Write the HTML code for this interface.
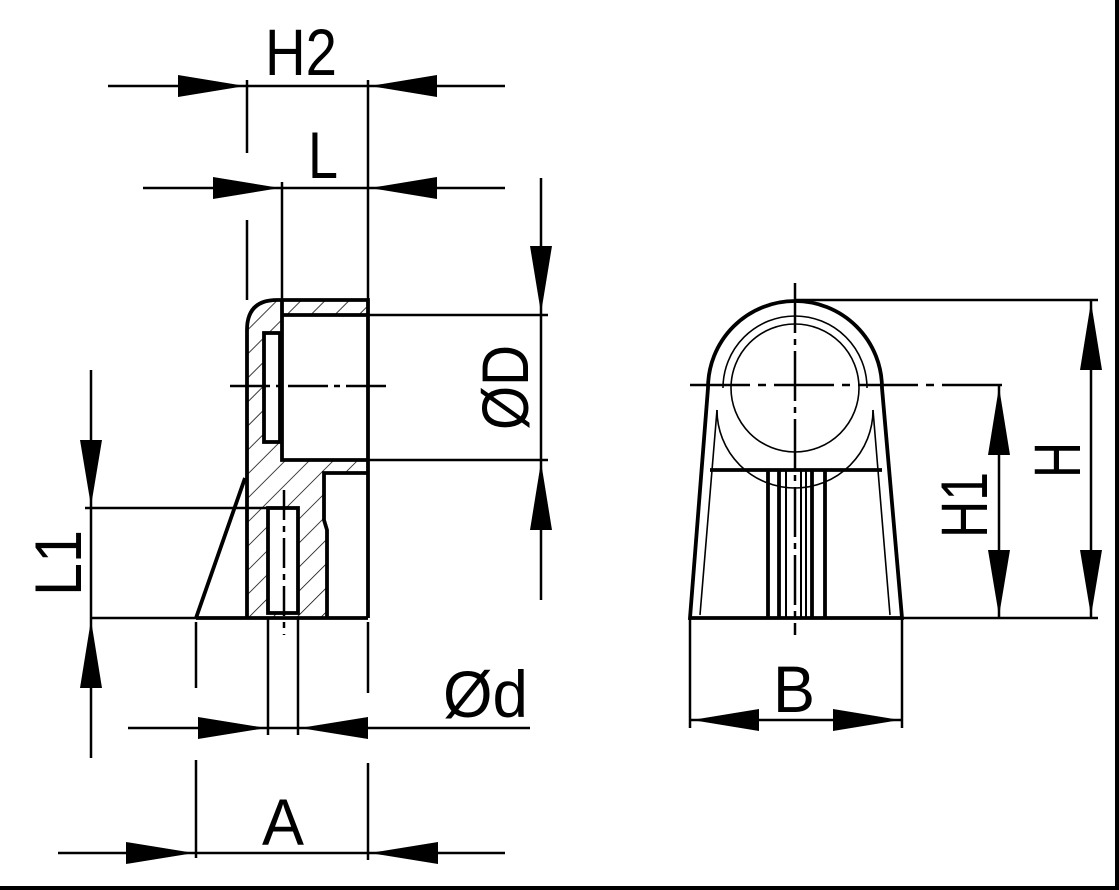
<!DOCTYPE html>
<html><head><style>html,body{margin:0;padding:0;background:#fff}svg{display:block}</style></head><body>
<svg width="1119" height="890" viewBox="0 0 1119 890" xmlns="http://www.w3.org/2000/svg">
<defs>
<pattern id="h" patternUnits="userSpaceOnUse" width="17" height="17" patternTransform="rotate(45)">
<line x1="0" y1="0" x2="0" y2="17" stroke="#000" stroke-width="1.5"/>
</pattern>
</defs>
<rect width="1119" height="890" fill="#fff"/>
<g fill="none" stroke="#000">
<path fill="url(#h)" stroke="none" fill-rule="evenodd" d="M247,618 L247,330 Q247,300 277,300 L368,300 L368,315 L282,315 L282,460 L368,460 L368,473 L324,473 L324,520 L327,530 L327,618 Z M264,333 H280 V442 H264 Z M268,508 H298 V613 H268 Z"/>
<g stroke-width="3.8">
<path d="M247,618 V330 Q247,300 277,300 H368 V618"/>
<path d="M282,300 V460 H368"/>
<path d="M282,315 H368"/>
<path d="M368,473 H324 V520 L327,530 V618"/>
<rect x="264" y="333" width="16" height="109"/>
<rect x="268" y="508" width="30" height="105"/>
<path d="M245,478 L196,618"/>
<path d="M196,618 H368"/>
</g>
<g stroke-width="2.5">
<path d="M108,86 H505 M143,188 H505"/>
<path d="M247,80 V153 M247,220 V300 M368,80 V300 M282,182 V300"/>
<path d="M541,178 V600 M368,315 H548 M368,460 H548"/>
<path d="M91,370 V758 M85,508 H298 M90,618 H196"/>
<path d="M230,386 H388" stroke-dasharray="40,6,6,6"/>
<path d="M284,490 V635" stroke-dasharray="30,6,6,6"/>
<path d="M128,728 H530 M268,618 V735 M298,618 V735"/>
<path d="M196,622 V688 M196,760 V858 M368,622 V693 M368,763 V860 M58,853 H505"/>
<path d="M795,300 H1098 M902,618 H1098 M1091,300 V618 M999,385 V618"/>
<path d="M690,618 V728 M902,618 V728 M690,720 H902"/>
<path d="M690,385 H1006" stroke-dasharray="60,8,8,8"/>
<path d="M795,283 V635" stroke-dasharray="50,6,6,6"/>
</g>
<path stroke-width="3.8" d="M690,618 L708,388 A87,87 0 0 1 882,388 L902,618 Z"/>
<path stroke-width="3.8" d="M710,470 H882"/>
<g stroke-width="1.6">
<path d="M717,410 A74,74 0 0 0 873,410"/>
<circle cx="795" cy="388" r="64"/>
<path d="M723,388 A72,72 0 0 1 867,388"/>
<path d="M717,410 L700,615 M873,410 L890,615"/>
</g>
<g stroke-width="3.8">
<path d="M768,470 V618 M779,470 V618 M812,470 V618 M825,470 V618"/>
</g>
<g stroke-width="2">
<path d="M786,470 V618 M801,470 V618 M806,470 V618"/>
</g>
</g>
<g fill="#000">
<polygon points="178,75 245,86 178,97"/><polygon points="437,75 370,86 437,97"/>
<polygon points="213,177 280,188 213,199"/><polygon points="437,177 370,188 437,199"/>
<polygon points="530,246 541,313 552,246"/><polygon points="530,530 541,462 552,530"/>
<polygon points="80,440 91,506 102,440"/><polygon points="80,688 91,620 102,688"/>
<polygon points="198,717 266,728 198,739"/><polygon points="368,717 300,728 368,739"/>
<polygon points="126,842 194,853 126,864"/><polygon points="438,842 370,853 438,864"/>
<polygon points="1080,370 1091,302 1102,370"/><polygon points="1080,550 1091,616 1102,550"/>
<polygon points="988,455 999,387 1010,455"/><polygon points="988,550 999,616 1010,550"/>
<polygon points="759,709 692,720 759,731"/><polygon points="833,709 900,720 833,731"/>
</g>
<g font-family="'Liberation Sans', sans-serif" font-size="66" fill="#000">
<text x="265" y="75" textLength="72" lengthAdjust="spacingAndGlyphs">H2</text>
<text x="308" y="178" textLength="30" lengthAdjust="spacingAndGlyphs">L</text>
<text x="262" y="845" textLength="42" lengthAdjust="spacingAndGlyphs">A</text>
<text x="773" y="712" textLength="42" lengthAdjust="spacingAndGlyphs">B</text>
<text x="443" y="717" textLength="85" lengthAdjust="spacingAndGlyphs">Ød</text>
<text transform="translate(528,430) rotate(-90)" textLength="85" lengthAdjust="spacingAndGlyphs">ØD</text>
<text transform="translate(81,596) rotate(-90)" textLength="66" lengthAdjust="spacingAndGlyphs">L1</text>
<text transform="translate(987,538) rotate(-90)" textLength="66" lengthAdjust="spacingAndGlyphs">H1</text>
<text transform="translate(1080,478) rotate(-90)" textLength="36" lengthAdjust="spacingAndGlyphs">H</text>
</g>
<rect x="0" y="886" width="1119" height="4" fill="#000"/>
<rect x="1115" y="0" width="4" height="890" fill="#000"/>
</svg>
</body></html>
